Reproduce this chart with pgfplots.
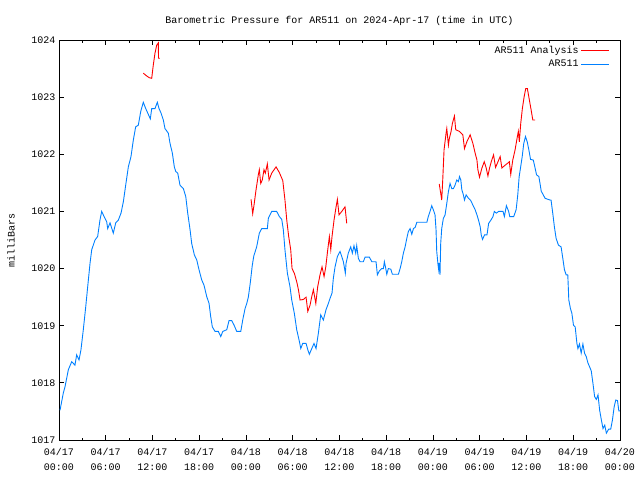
\documentclass[border=0pt]{standalone}
\usepackage{fontspec}
\setmainfont{Liberation Mono}
\usepackage{pgfplots}
\pgfplotsset{compat=1.18}
\definecolor{arred}{RGB}{255,0,0}
\definecolor{arblue}{RGB}{0,128,255}
\begin{document}
\begin{tikzpicture}
\path[use as bounding box] (0,0) rectangle (640bp,480bp);
\begin{axis}[
  at={(59bp,40bp)}, anchor=south west,
  scale only axis, width=561bp, height=400bp,
  xmin=0, xmax=72, ymin=1017, ymax=1024,
  xtick={0,6,...,72},
  minor xtick={3,9,...,69},
  xticklabels={{04/17\\00:00},{04/17\\06:00},{04/17\\12:00},{04/17\\18:00},{04/18\\00:00},{04/18\\06:00},{04/18\\12:00},{04/18\\18:00},{04/19\\00:00},{04/19\\06:00},{04/19\\12:00},{04/19\\18:00},{04/20\\00:00}},
  ytick={1017,1018,...,1024},
  /pgf/number format/assume math mode=true,
  /pgf/number format/1000 sep={},
  tick align=inside,
  major tick length=5bp, minor tick length=2.5bp,
  tick style={black, line width=0.8bp},
  axis line style={line width=0.8bp},
  xticklabel style={align=center, font=\fontsize{10bp}{14.5bp}\selectfont, yshift=-5bp},
  yticklabel style={font=\fontsize{10bp}{12bp}\selectfont},
  title={Barometric Pressure for AR511 on 2024-Apr-17 (time in UTC)},
  title style={at={(rel axis cs:0.5,1)}, anchor=center, yshift=13bp, font=\fontsize{10bp}{12bp}\selectfont},
  ylabel={milliBars},
  every axis y label/.style={at={(rel axis cs:0,0.5)}, xshift=-48bp, rotate=90, anchor=center, font=\fontsize{10bp}{12bp}\selectfont},
  unbounded coords=jump,
  legend plot pos=right,
  legend cell align=right,
  legend style={draw=none, fill=none, at={(axis description cs:0.987,0.995)}, anchor=north east, font=\fontsize{10bp}{12bp}\selectfont, row sep=1bp},
  legend image code/.code={\draw[#1] (0bp,0bp) -- (28bp,0bp);},
]
\addplot[arred, line width=0.9bp] coordinates {
(10.82,1023.42) (11.26,1023.37) (11.59,1023.34) (11.9,1023.33) (12.1,1023.56) (12.32,1023.77) (12.54,1023.91) (12.75,1023.95) (12.77,1023.68) (12.96,1023.68)
(13.0,nan)
(24.65,1021.21) (24.86,1020.96) (25.03,1021.11) (25.29,1021.38) (25.58,1021.64) (25.71,1021.73) (25.89,1021.49) (26.09,1021.55) (26.31,1021.73) (26.48,1021.67) (26.74,1021.83) (26.96,1021.55) (27.3,1021.67) (27.86,1021.78) (28.28,1021.68) (28.72,1021.54) (29.0,1021.2) (29.23,1020.85) (29.48,1020.56) (29.74,1020.33) (29.91,1020.0) (30.2,1019.92) (30.51,1019.77) (30.73,1019.63) (30.94,1019.45) (31.37,1019.46) (31.71,1019.5) (31.93,1019.25) (32.22,1019.36) (32.44,1019.51) (32.65,1019.63) (32.96,1019.39) (33.2,1019.68) (33.5,1019.89) (33.76,1020.03) (34.02,1019.86) (34.24,1020.03) (34.44,1020.27) (34.7,1020.56) (34.88,1020.33) (35.04,1020.56) (35.3,1020.85) (35.56,1021.08) (35.73,1021.21) (35.94,1020.94) (36.29,1021.0) (36.71,1021.08) (36.93,1020.79)
(37.0,nan)
(48.8,1021.48) (48.99,1021.32) (49.12,1021.2) (49.25,1021.55) (49.42,1022.08) (49.68,1022.37) (49.77,1022.45) (49.98,1022.16) (50.1,1022.28) (50.32,1022.4) (50.49,1022.54) (50.75,1022.67) (50.92,1022.43) (51.4,1022.4) (51.83,1022.34) (52.04,1022.1) (52.35,1022.22) (52.77,1022.34) (53.12,1022.19) (53.41,1022.02) (53.64,1021.9) (53.76,1021.73) (53.97,1021.6) (54.28,1021.76) (54.58,1021.87) (54.83,1021.76) (55.05,1021.62) (55.26,1021.76) (55.48,1021.87) (55.77,1021.99) (56.03,1021.77) (56.34,1021.87) (56.62,1021.96) (56.84,1021.76) (57.26,1021.81) (57.55,1021.84) (57.8,1021.87) (57.98,1021.65) (58.24,1021.9) (58.54,1022.08) (58.75,1022.25) (58.95,1022.4) (59.08,1022.22) (59.26,1022.54) (59.47,1022.8) (59.69,1023.0) (59.9,1023.15) (60.11,1023.15) (60.37,1022.95) (60.59,1022.78) (60.81,1022.6) (61.1,1022.6)
};
\addlegendentry{AR511 Analysis}
\addplot[arblue, line width=0.9bp] coordinates {
(0.13,1017.52) (0.55,1017.82) (0.77,1017.93) (1.2,1018.23) (1.63,1018.37) (2.05,1018.31) (2.27,1018.49) (2.57,1018.4) (2.82,1018.58) (3.12,1018.93) (3.43,1019.33) (3.68,1019.68) (3.98,1020.09) (4.2,1020.33) (4.62,1020.5) (4.96,1020.56) (5.26,1020.85) (5.48,1021.0) (5.82,1020.9) (6.12,1020.82) (6.25,1020.7) (6.55,1020.8) (6.97,1020.62) (7.28,1020.8) (7.62,1020.85) (7.96,1020.97) (8.26,1021.17) (8.56,1021.46) (8.9,1021.78) (9.24,1021.96) (9.54,1022.25) (9.84,1022.48) (10.18,1022.51) (10.49,1022.75) (10.82,1022.91) (11.13,1022.8) (11.46,1022.7) (11.72,1022.62) (11.9,1022.8) (12.32,1022.8) (12.62,1022.91) (12.84,1022.8) (13.1,1022.72) (13.39,1022.6) (13.6,1022.45) (14.03,1022.37) (14.25,1022.19) (14.55,1022.02) (14.8,1021.78) (14.98,1021.7) (15.24,1021.67) (15.53,1021.46) (15.96,1021.4) (16.27,1021.26) (16.52,1020.97) (16.82,1020.68) (17.03,1020.44) (17.37,1020.24) (17.68,1020.15) (17.97,1019.98) (18.32,1019.8) (18.61,1019.71) (18.96,1019.51) (19.26,1019.39) (19.47,1019.16) (19.68,1018.98) (20.03,1018.9) (20.45,1018.9) (20.76,1018.81) (21.02,1018.9) (21.53,1018.93) (21.82,1019.09) (22.17,1019.09) (22.47,1019.01) (22.81,1018.9) (23.33,1018.9) (23.58,1019.1) (23.88,1019.3) (24.1,1019.39) (24.3,1019.5) (24.55,1019.75) (24.8,1020.05) (25.0,1020.22) (25.37,1020.38) (25.71,1020.62) (26.02,1020.7) (26.74,1020.7) (26.87,1020.88) (27.3,1021.0) (27.94,1021.0) (28.28,1020.91) (28.59,1020.86) (28.79,1020.68) (29.0,1020.33) (29.31,1019.92) (29.65,1019.68) (29.87,1019.45) (30.2,1019.22) (30.51,1018.93) (30.81,1018.75) (31.03,1018.6) (31.28,1018.69) (31.71,1018.69) (31.93,1018.58) (32.13,1018.5) (32.44,1018.6) (32.73,1018.69) (32.99,1018.6) (33.29,1018.87) (33.59,1019.19) (33.93,1019.1) (34.27,1019.28) (34.57,1019.39) (34.79,1019.48) (35.04,1019.57) (35.21,1019.83) (35.43,1020.03) (35.73,1020.21) (36.07,1020.3) (36.29,1020.21) (36.5,1020.12) (36.75,1019.92) (36.84,1020.09) (37.13,1020.27) (37.44,1020.38) (37.65,1020.27) (37.86,1020.4) (38.08,1020.27) (38.21,1020.4) (38.42,1020.18) (38.64,1020.12) (39.06,1020.12) (39.28,1020.2) (39.84,1020.2) (40.14,1020.12) (40.69,1020.12) (40.78,1020.0) (40.86,1019.89) (41.12,1019.96) (41.42,1020.0) (41.63,1020.0) (41.76,1020.12) (41.94,1020.0) (42.07,1019.9) (42.27,1020.0) (42.58,1019.99) (42.79,1019.9) (43.56,1019.9) (43.78,1020.0) (43.99,1020.12) (44.2,1020.27) (44.42,1020.38) (44.64,1020.53) (44.84,1020.65) (45.06,1020.7) (45.28,1020.6) (45.49,1020.7) (45.71,1020.72) (45.93,1020.81) (47.21,1020.81) (47.4,1020.91) (47.62,1021.0) (47.84,1021.1) (48.04,1021.03) (48.26,1020.94) (48.39,1020.68) (48.48,1020.3) (48.65,1020.06) (48.73,1019.98) (48.8,1020.1) (48.9,1019.89) (48.99,1020.44) (49.12,1020.7) (49.33,1020.88) (49.55,1020.94) (49.77,1021.14) (49.98,1021.35) (50.19,1021.49) (50.41,1021.4) (50.62,1021.4) (50.83,1021.46) (51.05,1021.55) (51.26,1021.52) (51.4,1021.61) (51.57,1021.55) (51.7,1021.38) (51.9,1021.29) (52.04,1021.2) (52.25,1021.29) (52.55,1021.23) (52.85,1021.19) (53.12,1021.11) (53.41,1021.03) (53.64,1020.94) (53.84,1020.85) (54.06,1020.73) (54.19,1020.59) (54.36,1020.51) (54.62,1020.59) (54.93,1020.59) (55.14,1020.79) (55.44,1020.85) (55.7,1020.91) (55.87,1021.0) (56.13,1020.97) (56.42,1021.0) (56.99,1021.0) (57.16,1020.91) (57.42,1021.1) (57.71,1021.0) (57.85,1020.91) (58.36,1020.91) (58.67,1021.03) (58.88,1021.29) (59.06,1021.61) (59.23,1021.76) (59.45,1021.96) (59.65,1022.19) (59.87,1022.31) (60.09,1022.22) (60.3,1022.08) (60.52,1021.91) (60.87,1021.9) (61.07,1021.78) (61.29,1021.64) (61.59,1021.61) (61.9,1021.35) (62.08,1021.31) (62.38,1021.23) (63.0,1021.2) (63.15,1021.2) (63.37,1020.97) (63.58,1020.73) (63.8,1020.53) (64.1,1020.41) (64.44,1020.38) (64.66,1020.18) (64.87,1019.98) (65.09,1019.89) (65.3,1019.89) (65.43,1019.45) (65.64,1019.3) (65.82,1019.22) (66.03,1019.01) (66.25,1018.98) (66.47,1018.69) (66.6,1018.6) (66.8,1018.68) (67.02,1018.52) (67.24,1018.68) (67.45,1018.52) (67.67,1018.46) (67.88,1018.35) (68.1,1018.28) (68.31,1018.21) (68.53,1017.99) (68.74,1017.76) (68.96,1017.71) (69.18,1017.79) (69.39,1017.52) (69.61,1017.35) (69.82,1017.2) (70.04,1017.26) (70.25,1017.12) (70.55,1017.19) (70.81,1017.19) (71.03,1017.35) (71.25,1017.58) (71.46,1017.7) (71.68,1017.69) (71.85,1017.51) (72.0,1017.51)
};
\addlegendentry{AR511}
\end{axis}
\end{tikzpicture}
\end{document}
